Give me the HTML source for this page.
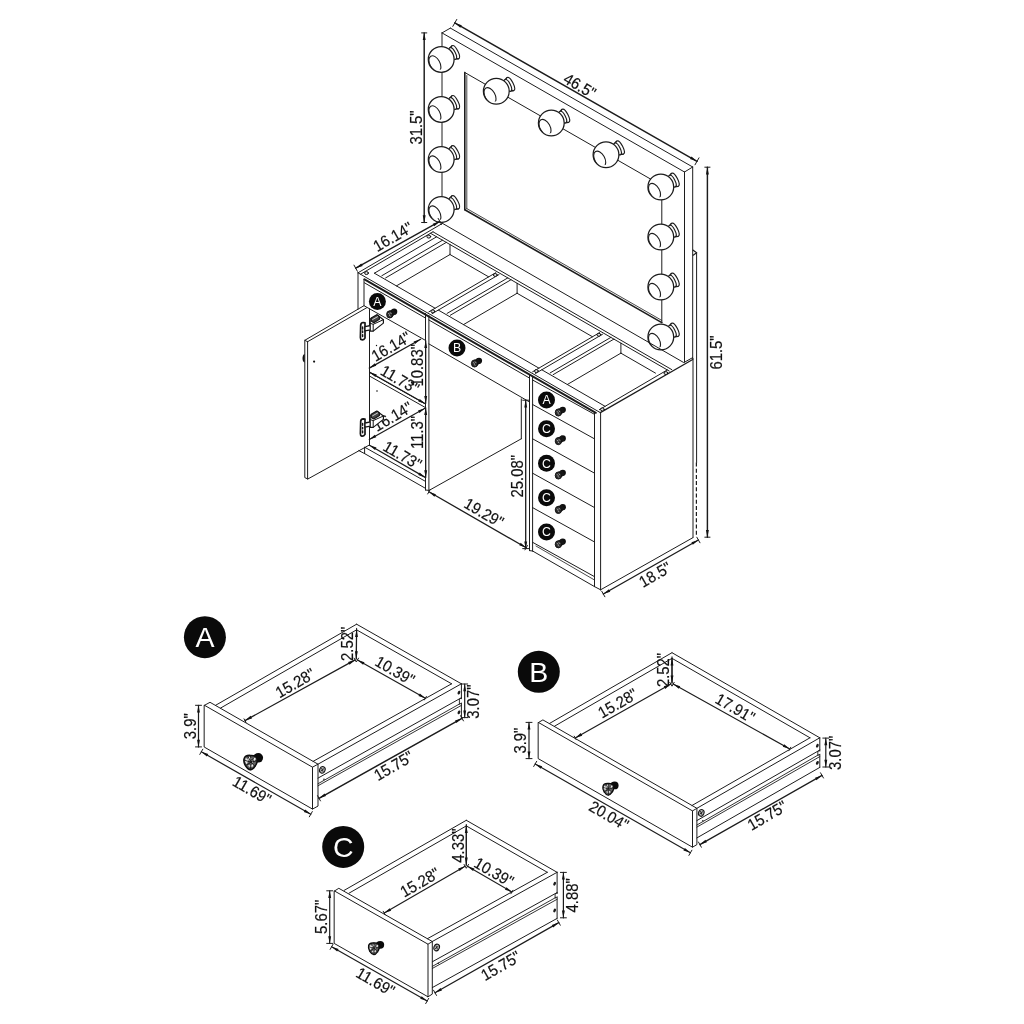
<!DOCTYPE html>
<html><head><meta charset="utf-8"><title>Vanity dimensions</title>
<style>
html,body{margin:0;padding:0;background:#fff;}
body{width:1024px;height:1024px;overflow:hidden;}
svg{display:block;will-change:transform;font-family:"Liberation Sans",sans-serif;}
</style></head><body>
<svg width="1024" height="1024" viewBox="0 0 1024 1024" stroke-linecap="round">
<rect x="0" y="0" width="1024" height="1024" fill="#fff"/>
<line x1="442.00" y1="32.90" x2="684.50" y2="172.00" stroke="#1c1c1c" stroke-width="1.0" />
<line x1="450.40" y1="28.10" x2="692.70" y2="167.00" stroke="#1c1c1c" stroke-width="1.0" />
<line x1="442.00" y1="32.90" x2="450.40" y2="28.10" stroke="#1c1c1c" stroke-width="1.0" />
<line x1="684.50" y1="172.00" x2="692.70" y2="167.00" stroke="#1c1c1c" stroke-width="1.0" />
<line x1="442.00" y1="32.90" x2="442.00" y2="223.30" stroke="#1c1c1c" stroke-width="1.0" />
<line x1="684.50" y1="172.00" x2="684.50" y2="362.20" stroke="#1c1c1c" stroke-width="1.0" />
<line x1="692.70" y1="167.00" x2="692.70" y2="358.50" stroke="#1c1c1c" stroke-width="1.0" />
<line x1="464.80" y1="72.50" x2="661.80" y2="185.50" stroke="#1c1c1c" stroke-width="1.0" />
<line x1="661.80" y1="185.50" x2="661.80" y2="322.60" stroke="#1c1c1c" stroke-width="1.0" />
<line x1="464.80" y1="72.50" x2="464.80" y2="209.80" stroke="#1c1c1c" stroke-width="1.6" />
<line x1="464.80" y1="209.80" x2="661.80" y2="322.60" stroke="#1c1c1c" stroke-width="1.6" />
<line x1="466.80" y1="75.50" x2="466.80" y2="208.80" stroke="#1c1c1c" stroke-width="0.8" />
<line x1="466.80" y1="208.60" x2="661.80" y2="320.40" stroke="#1c1c1c" stroke-width="0.8" />
<g transform="translate(441.20,59.40) rotate(-27)"><ellipse cx="15.9" cy="0" rx="2.7" ry="7.3" fill="#fff" stroke="#1c1c1c" stroke-width="1.15"/><path d="M12.6,-6.3 L15.6,-7.3 M12.6,6.3 L15.6,7.3" stroke="#1c1c1c" stroke-width="1.1" fill="none"/><ellipse cx="12.9" cy="0" rx="2.7" ry="6.4" fill="#fff" stroke="#1c1c1c" stroke-width="1.15"/></g>
<circle cx="441.20" cy="59.40" r="12.9" fill="#fff" stroke="#1c1c1c" stroke-width="1.25"/>
<clipPath id="bc1"><circle cx="441.20" cy="59.40" r="12.9"/></clipPath>
<ellipse cx="434.90" cy="63.60" rx="5.0" ry="8.5" transform="rotate(-29 434.90 63.60)" fill="none" stroke="#1c1c1c" stroke-width="1.1" clip-path="url(#bc1)"/>
<g transform="translate(441.20,109.40) rotate(-27)"><ellipse cx="15.9" cy="0" rx="2.7" ry="7.3" fill="#fff" stroke="#1c1c1c" stroke-width="1.15"/><path d="M12.6,-6.3 L15.6,-7.3 M12.6,6.3 L15.6,7.3" stroke="#1c1c1c" stroke-width="1.1" fill="none"/><ellipse cx="12.9" cy="0" rx="2.7" ry="6.4" fill="#fff" stroke="#1c1c1c" stroke-width="1.15"/></g>
<circle cx="441.20" cy="109.40" r="12.9" fill="#fff" stroke="#1c1c1c" stroke-width="1.25"/>
<clipPath id="bc2"><circle cx="441.20" cy="109.40" r="12.9"/></clipPath>
<ellipse cx="434.90" cy="113.60" rx="5.0" ry="8.5" transform="rotate(-29 434.90 113.60)" fill="none" stroke="#1c1c1c" stroke-width="1.1" clip-path="url(#bc2)"/>
<g transform="translate(441.20,159.50) rotate(-27)"><ellipse cx="15.9" cy="0" rx="2.7" ry="7.3" fill="#fff" stroke="#1c1c1c" stroke-width="1.15"/><path d="M12.6,-6.3 L15.6,-7.3 M12.6,6.3 L15.6,7.3" stroke="#1c1c1c" stroke-width="1.1" fill="none"/><ellipse cx="12.9" cy="0" rx="2.7" ry="6.4" fill="#fff" stroke="#1c1c1c" stroke-width="1.15"/></g>
<circle cx="441.20" cy="159.50" r="12.9" fill="#fff" stroke="#1c1c1c" stroke-width="1.25"/>
<clipPath id="bc3"><circle cx="441.20" cy="159.50" r="12.9"/></clipPath>
<ellipse cx="434.90" cy="163.70" rx="5.0" ry="8.5" transform="rotate(-29 434.90 163.70)" fill="none" stroke="#1c1c1c" stroke-width="1.1" clip-path="url(#bc3)"/>
<g transform="translate(441.20,209.50) rotate(-27)"><ellipse cx="15.9" cy="0" rx="2.7" ry="7.3" fill="#fff" stroke="#1c1c1c" stroke-width="1.15"/><path d="M12.6,-6.3 L15.6,-7.3 M12.6,6.3 L15.6,7.3" stroke="#1c1c1c" stroke-width="1.1" fill="none"/><ellipse cx="12.9" cy="0" rx="2.7" ry="6.4" fill="#fff" stroke="#1c1c1c" stroke-width="1.15"/></g>
<circle cx="441.20" cy="209.50" r="12.9" fill="#fff" stroke="#1c1c1c" stroke-width="1.25"/>
<clipPath id="bc4"><circle cx="441.20" cy="209.50" r="12.9"/></clipPath>
<ellipse cx="434.90" cy="213.70" rx="5.0" ry="8.5" transform="rotate(-29 434.90 213.70)" fill="none" stroke="#1c1c1c" stroke-width="1.1" clip-path="url(#bc4)"/>
<g transform="translate(496.30,91.30) rotate(-27)"><ellipse cx="15.9" cy="0" rx="2.7" ry="7.3" fill="#fff" stroke="#1c1c1c" stroke-width="1.15"/><path d="M12.6,-6.3 L15.6,-7.3 M12.6,6.3 L15.6,7.3" stroke="#1c1c1c" stroke-width="1.1" fill="none"/><ellipse cx="12.9" cy="0" rx="2.7" ry="6.4" fill="#fff" stroke="#1c1c1c" stroke-width="1.15"/></g>
<circle cx="496.30" cy="91.30" r="12.9" fill="#fff" stroke="#1c1c1c" stroke-width="1.25"/>
<clipPath id="bc5"><circle cx="496.30" cy="91.30" r="12.9"/></clipPath>
<ellipse cx="490.00" cy="95.50" rx="5.0" ry="8.5" transform="rotate(-29 490.00 95.50)" fill="none" stroke="#1c1c1c" stroke-width="1.1" clip-path="url(#bc5)"/>
<g transform="translate(551.30,123.00) rotate(-27)"><ellipse cx="15.9" cy="0" rx="2.7" ry="7.3" fill="#fff" stroke="#1c1c1c" stroke-width="1.15"/><path d="M12.6,-6.3 L15.6,-7.3 M12.6,6.3 L15.6,7.3" stroke="#1c1c1c" stroke-width="1.1" fill="none"/><ellipse cx="12.9" cy="0" rx="2.7" ry="6.4" fill="#fff" stroke="#1c1c1c" stroke-width="1.15"/></g>
<circle cx="551.30" cy="123.00" r="12.9" fill="#fff" stroke="#1c1c1c" stroke-width="1.25"/>
<clipPath id="bc6"><circle cx="551.30" cy="123.00" r="12.9"/></clipPath>
<ellipse cx="545.00" cy="127.20" rx="5.0" ry="8.5" transform="rotate(-29 545.00 127.20)" fill="none" stroke="#1c1c1c" stroke-width="1.1" clip-path="url(#bc6)"/>
<g transform="translate(606.00,154.80) rotate(-27)"><ellipse cx="15.9" cy="0" rx="2.7" ry="7.3" fill="#fff" stroke="#1c1c1c" stroke-width="1.15"/><path d="M12.6,-6.3 L15.6,-7.3 M12.6,6.3 L15.6,7.3" stroke="#1c1c1c" stroke-width="1.1" fill="none"/><ellipse cx="12.9" cy="0" rx="2.7" ry="6.4" fill="#fff" stroke="#1c1c1c" stroke-width="1.15"/></g>
<circle cx="606.00" cy="154.80" r="12.9" fill="#fff" stroke="#1c1c1c" stroke-width="1.25"/>
<clipPath id="bc7"><circle cx="606.00" cy="154.80" r="12.9"/></clipPath>
<ellipse cx="599.70" cy="159.00" rx="5.0" ry="8.5" transform="rotate(-29 599.70 159.00)" fill="none" stroke="#1c1c1c" stroke-width="1.1" clip-path="url(#bc7)"/>
<g transform="translate(660.80,187.00) rotate(-27)"><ellipse cx="15.9" cy="0" rx="2.7" ry="7.3" fill="#fff" stroke="#1c1c1c" stroke-width="1.15"/><path d="M12.6,-6.3 L15.6,-7.3 M12.6,6.3 L15.6,7.3" stroke="#1c1c1c" stroke-width="1.1" fill="none"/><ellipse cx="12.9" cy="0" rx="2.7" ry="6.4" fill="#fff" stroke="#1c1c1c" stroke-width="1.15"/></g>
<circle cx="660.80" cy="187.00" r="12.9" fill="#fff" stroke="#1c1c1c" stroke-width="1.25"/>
<clipPath id="bc8"><circle cx="660.80" cy="187.00" r="12.9"/></clipPath>
<ellipse cx="654.50" cy="191.20" rx="5.0" ry="8.5" transform="rotate(-29 654.50 191.20)" fill="none" stroke="#1c1c1c" stroke-width="1.1" clip-path="url(#bc8)"/>
<g transform="translate(660.80,237.00) rotate(-27)"><ellipse cx="15.9" cy="0" rx="2.7" ry="7.3" fill="#fff" stroke="#1c1c1c" stroke-width="1.15"/><path d="M12.6,-6.3 L15.6,-7.3 M12.6,6.3 L15.6,7.3" stroke="#1c1c1c" stroke-width="1.1" fill="none"/><ellipse cx="12.9" cy="0" rx="2.7" ry="6.4" fill="#fff" stroke="#1c1c1c" stroke-width="1.15"/></g>
<circle cx="660.80" cy="237.00" r="12.9" fill="#fff" stroke="#1c1c1c" stroke-width="1.25"/>
<clipPath id="bc9"><circle cx="660.80" cy="237.00" r="12.9"/></clipPath>
<ellipse cx="654.50" cy="241.20" rx="5.0" ry="8.5" transform="rotate(-29 654.50 241.20)" fill="none" stroke="#1c1c1c" stroke-width="1.1" clip-path="url(#bc9)"/>
<g transform="translate(660.80,287.00) rotate(-27)"><ellipse cx="15.9" cy="0" rx="2.7" ry="7.3" fill="#fff" stroke="#1c1c1c" stroke-width="1.15"/><path d="M12.6,-6.3 L15.6,-7.3 M12.6,6.3 L15.6,7.3" stroke="#1c1c1c" stroke-width="1.1" fill="none"/><ellipse cx="12.9" cy="0" rx="2.7" ry="6.4" fill="#fff" stroke="#1c1c1c" stroke-width="1.15"/></g>
<circle cx="660.80" cy="287.00" r="12.9" fill="#fff" stroke="#1c1c1c" stroke-width="1.25"/>
<clipPath id="bc10"><circle cx="660.80" cy="287.00" r="12.9"/></clipPath>
<ellipse cx="654.50" cy="291.20" rx="5.0" ry="8.5" transform="rotate(-29 654.50 291.20)" fill="none" stroke="#1c1c1c" stroke-width="1.1" clip-path="url(#bc10)"/>
<g transform="translate(660.80,337.00) rotate(-27)"><ellipse cx="15.9" cy="0" rx="2.7" ry="7.3" fill="#fff" stroke="#1c1c1c" stroke-width="1.15"/><path d="M12.6,-6.3 L15.6,-7.3 M12.6,6.3 L15.6,7.3" stroke="#1c1c1c" stroke-width="1.1" fill="none"/><ellipse cx="12.9" cy="0" rx="2.7" ry="6.4" fill="#fff" stroke="#1c1c1c" stroke-width="1.15"/></g>
<circle cx="660.80" cy="337.00" r="12.9" fill="#fff" stroke="#1c1c1c" stroke-width="1.25"/>
<clipPath id="bc11"><circle cx="660.80" cy="337.00" r="12.9"/></clipPath>
<ellipse cx="654.50" cy="341.20" rx="5.0" ry="8.5" transform="rotate(-29 654.50 341.20)" fill="none" stroke="#1c1c1c" stroke-width="1.1" clip-path="url(#bc11)"/>
<line x1="454.80" y1="22.90" x2="697.00" y2="161.30" stroke="#1c1c1c" stroke-width="1.5" />
<path d="M454.80,22.90 L461.77,25.21 L460.33,27.73 Z" fill="#111"/>
<path d="M697.00,161.30 L690.03,158.99 L691.47,156.47 Z" fill="#111"/>
<line x1="456.78" y1="19.43" x2="452.82" y2="26.37" stroke="#1c1c1c" stroke-width="1.0" />
<line x1="698.98" y1="157.83" x2="695.02" y2="164.77" stroke="#1c1c1c" stroke-width="1.0" />
<text x="0" y="0" transform="translate(580.00,85.50) rotate(30) scale(0.93,1)" text-anchor="middle" dy="0.36em" font-size="16" fill="#111" stroke="#111" stroke-width="0.2">46.5"</text>
<line x1="424.20" y1="32.90" x2="424.20" y2="222.50" stroke="#1c1c1c" stroke-width="1.45" />
<path d="M424.20,32.90 L425.65,40.10 L422.75,40.10 Z" fill="#111"/>
<path d="M424.20,222.50 L422.75,215.30 L425.65,215.30 Z" fill="#111"/>
<line x1="426.80" y1="32.90" x2="421.60" y2="32.90" stroke="#1c1c1c" stroke-width="1.0" />
<line x1="426.80" y1="222.50" x2="421.60" y2="222.50" stroke="#1c1c1c" stroke-width="1.0" />
<text x="0" y="0" transform="translate(416.30,127.50) rotate(-90) scale(0.93,1)" text-anchor="middle" dy="0.36em" font-size="16" fill="#111" stroke="#111" stroke-width="0.2">31.5"</text>
<line x1="707.40" y1="167.20" x2="707.40" y2="537.20" stroke="#1c1c1c" stroke-width="1.45" />
<path d="M707.40,167.20 L708.85,174.40 L705.95,174.40 Z" fill="#111"/>
<path d="M707.40,537.20 L705.95,530.00 L708.85,530.00 Z" fill="#111"/>
<line x1="710.00" y1="167.20" x2="704.80" y2="167.20" stroke="#1c1c1c" stroke-width="1.0" />
<line x1="710.00" y1="537.20" x2="704.80" y2="537.20" stroke="#1c1c1c" stroke-width="1.0" />
<text x="0" y="0" transform="translate(715.80,352.50) rotate(-90) scale(0.93,1)" text-anchor="middle" dy="0.36em" font-size="16" fill="#111" stroke="#111" stroke-width="0.2">61.5"</text>
<path d="M693.20,250.20 L696.60,252.80 L693.20,255.20" fill="none" stroke="#1c1c1c" stroke-width="1.2" stroke-linejoin="round"/>
<line x1="696.60" y1="252.80" x2="696.60" y2="462.50" stroke="#1c1c1c" stroke-width="1.0" />
<line x1="696.40" y1="462.50" x2="696.40" y2="536.00" stroke="#1c1c1c" stroke-width="1.2" stroke-dasharray="4,2.2" stroke-linecap="butt"/>
<line x1="358.00" y1="272.80" x2="600.30" y2="412.61" stroke="#1c1c1c" stroke-width="1.0" />
<line x1="358.00" y1="272.80" x2="442.50" y2="223.37" stroke="#1c1c1c" stroke-width="1.0" />
<line x1="442.50" y1="223.37" x2="683.50" y2="362.42" stroke="#1c1c1c" stroke-width="1.0" />
<line x1="600.30" y1="412.61" x2="692.70" y2="359.50" stroke="#1c1c1c" stroke-width="1.3" />
<line x1="684.50" y1="362.20" x2="692.70" y2="357.60" stroke="#1c1c1c" stroke-width="1.0" />
<line x1="355.70" y1="268.20" x2="439.80" y2="221.40" stroke="#1c1c1c" stroke-width="1.4" />
<path d="M355.70,268.20 L361.29,263.43 L362.70,265.97 Z" fill="#111"/>
<path d="M439.80,221.40 L434.21,226.17 L432.80,223.63 Z" fill="#111"/>
<line x1="354.00" y1="265.14" x2="357.40" y2="271.26" stroke="#1c1c1c" stroke-width="1.0" />
<line x1="438.10" y1="218.34" x2="441.50" y2="224.46" stroke="#1c1c1c" stroke-width="1.0" />
<text x="0" y="0" transform="translate(392.70,236.60) rotate(-30) scale(0.93,1)" text-anchor="middle" dy="0.36em" font-size="16" fill="#111" stroke="#111" stroke-width="0.2">16.14"</text>
<line x1="360.50" y1="274.24" x2="433.00" y2="231.83" stroke="#1c1c1c" stroke-width="1.0" />
<line x1="433.00" y1="231.83" x2="671.80" y2="369.62" stroke="#1c1c1c" stroke-width="1.0" />
<line x1="430.50" y1="233.29" x2="669.30" y2="371.08" stroke="#1c1c1c" stroke-width="1.0" />
<line x1="599.30" y1="409.71" x2="667.30" y2="369.93" stroke="#1c1c1c" stroke-width="1.0" />
<line x1="374.40" y1="273.20" x2="435.10" y2="308.22" stroke="#1c1c1c" stroke-width="1.0" />
<line x1="438.30" y1="310.07" x2="538.90" y2="368.12" stroke="#1c1c1c" stroke-width="1.0" />
<line x1="541.80" y1="369.79" x2="605.10" y2="406.31" stroke="#1c1c1c" stroke-width="1.0" />
<line x1="428.80" y1="311.91" x2="495.80" y2="272.71" stroke="#1c1c1c" stroke-width="1.0" />
<line x1="432.00" y1="313.75" x2="499.00" y2="274.56" stroke="#1c1c1c" stroke-width="1.0" />
<line x1="532.60" y1="371.80" x2="599.60" y2="332.61" stroke="#1c1c1c" stroke-width="1.0" />
<line x1="535.50" y1="373.47" x2="602.50" y2="334.28" stroke="#1c1c1c" stroke-width="1.0" />
<line x1="374.40" y1="273.20" x2="436.60" y2="236.81" stroke="#1c1c1c" stroke-width="1.0" />
<line x1="381.80" y1="275.73" x2="442.50" y2="240.22" stroke="#1c1c1c" stroke-width="1.0" />
<line x1="385.60" y1="277.92" x2="446.30" y2="242.41" stroke="#1c1c1c" stroke-width="1.0" />
<line x1="450.00" y1="244.54" x2="450.00" y2="254.54" stroke="#1c1c1c" stroke-width="1.0" />
<line x1="396.41" y1="285.90" x2="450.00" y2="254.54" stroke="#1c1c1c" stroke-width="1.0" />
<line x1="450.00" y1="254.54" x2="488.69" y2="276.87" stroke="#1c1c1c" stroke-width="1.0" />
<line x1="447.10" y1="313.40" x2="507.80" y2="277.89" stroke="#1c1c1c" stroke-width="1.0" />
<line x1="450.30" y1="315.25" x2="511.00" y2="279.74" stroke="#1c1c1c" stroke-width="1.0" />
<line x1="517.10" y1="283.26" x2="517.10" y2="293.26" stroke="#1c1c1c" stroke-width="1.0" />
<line x1="463.51" y1="324.61" x2="517.10" y2="293.26" stroke="#1c1c1c" stroke-width="1.0" />
<line x1="517.10" y1="293.26" x2="592.49" y2="336.76" stroke="#1c1c1c" stroke-width="1.0" />
<line x1="550.20" y1="372.89" x2="610.90" y2="337.38" stroke="#1c1c1c" stroke-width="1.0" />
<line x1="553.20" y1="374.62" x2="613.90" y2="339.11" stroke="#1c1c1c" stroke-width="1.0" />
<line x1="620.90" y1="343.15" x2="620.90" y2="353.15" stroke="#1c1c1c" stroke-width="1.0" />
<line x1="567.31" y1="384.51" x2="620.90" y2="353.15" stroke="#1c1c1c" stroke-width="1.0" />
<line x1="620.90" y1="353.15" x2="655.50" y2="373.12" stroke="#1c1c1c" stroke-width="1.0" />
<ellipse cx="366.50" cy="273.06" rx="1.9" ry="1.5" fill="#ddd" stroke="#111" stroke-width="1.0"/>
<ellipse cx="428.80" cy="236.61" rx="1.9" ry="1.5" fill="#ddd" stroke="#111" stroke-width="1.0"/>
<ellipse cx="432.90" cy="311.37" rx="1.9" ry="1.5" fill="#ddd" stroke="#111" stroke-width="1.0"/>
<ellipse cx="495.30" cy="274.98" rx="1.9" ry="1.5" fill="#ddd" stroke="#111" stroke-width="1.0"/>
<ellipse cx="536.40" cy="371.09" rx="1.9" ry="1.5" fill="#ddd" stroke="#111" stroke-width="1.0"/>
<ellipse cx="598.90" cy="334.76" rx="1.9" ry="1.5" fill="#ddd" stroke="#111" stroke-width="1.0"/>
<ellipse cx="602.40" cy="409.40" rx="1.9" ry="1.5" fill="#ddd" stroke="#111" stroke-width="1.0"/>
<ellipse cx="665.90" cy="373.07" rx="1.9" ry="1.5" fill="#ddd" stroke="#111" stroke-width="1.0"/>
<line x1="364.50" y1="279.35" x2="595.80" y2="412.81" stroke="#1c1c1c" stroke-width="2.0" />
<line x1="358.00" y1="272.80" x2="358.00" y2="309.20" stroke="#1c1c1c" stroke-width="1.0" />
<line x1="364.00" y1="279.30" x2="364.00" y2="305.70" stroke="#1c1c1c" stroke-width="1.0" />
<line x1="364.50" y1="282.85" x2="425.40" y2="317.99" stroke="#1c1c1c" stroke-width="1.0" />
<line x1="364.40" y1="305.90" x2="425.50" y2="340.40" stroke="#1c1c1c" stroke-width="1.0" />
<line x1="425.50" y1="313.50" x2="425.50" y2="490.00" stroke="#1c1c1c" stroke-width="1.0" />
<line x1="428.90" y1="315.50" x2="428.90" y2="490.40" stroke="#1c1c1c" stroke-width="1.0" />
<line x1="425.50" y1="490.00" x2="428.90" y2="490.40" stroke="#1c1c1c" stroke-width="1.0" />
<line x1="428.90" y1="320.01" x2="529.50" y2="378.06" stroke="#1c1c1c" stroke-width="1.0" />
<line x1="428.90" y1="343.91" x2="529.50" y2="401.96" stroke="#1c1c1c" stroke-width="1.0" />
<line x1="521.30" y1="398.80" x2="521.30" y2="438.80" stroke="#1c1c1c" stroke-width="1.0" />
<line x1="521.30" y1="438.80" x2="429.10" y2="490.40" stroke="#1c1c1c" stroke-width="1.0" />
<line x1="529.50" y1="374.50" x2="529.50" y2="550.60" stroke="#1c1c1c" stroke-width="1.0" />
<line x1="532.60" y1="376.50" x2="532.60" y2="551.00" stroke="#1c1c1c" stroke-width="1.0" />
<line x1="529.50" y1="550.60" x2="532.60" y2="551.00" stroke="#1c1c1c" stroke-width="1.0" />
<line x1="532.60" y1="380.00" x2="594.50" y2="414.35" stroke="#1c1c1c" stroke-width="1.0" />
<line x1="532.60" y1="404.50" x2="594.50" y2="438.85" stroke="#1c1c1c" stroke-width="1.0" />
<line x1="532.60" y1="438.80" x2="594.50" y2="473.15" stroke="#1c1c1c" stroke-width="1.0" />
<line x1="532.60" y1="473.20" x2="594.50" y2="507.55" stroke="#1c1c1c" stroke-width="1.0" />
<line x1="532.60" y1="507.60" x2="594.50" y2="541.95" stroke="#1c1c1c" stroke-width="1.0" />
<line x1="532.60" y1="542.30" x2="594.50" y2="576.65" stroke="#1c1c1c" stroke-width="1.0" />
<line x1="532.60" y1="551.00" x2="594.50" y2="586.60" stroke="#1c1c1c" stroke-width="1.0" />
<line x1="536.00" y1="546.00" x2="594.50" y2="580.00" stroke="#1c1c1c" stroke-width="0.8" />
<line x1="594.50" y1="412.60" x2="594.50" y2="586.60" stroke="#1c1c1c" stroke-width="1.0" />
<line x1="600.60" y1="412.80" x2="600.60" y2="589.80" stroke="#1c1c1c" stroke-width="1.0" />
<line x1="594.50" y1="586.60" x2="600.60" y2="589.80" stroke="#1c1c1c" stroke-width="1.0" />
<line x1="600.60" y1="589.80" x2="693.00" y2="537.60" stroke="#1c1c1c" stroke-width="1.0" />
<line x1="693.00" y1="358.50" x2="693.00" y2="537.40" stroke="#1c1c1c" stroke-width="1.0" />
<line x1="369.50" y1="308.80" x2="369.50" y2="445.20" stroke="#1c1c1c" stroke-width="1.0" />
<line x1="369.40" y1="372.40" x2="425.50" y2="404.00" stroke="#1c1c1c" stroke-width="1.0" />
<line x1="369.40" y1="376.00" x2="425.50" y2="407.60" stroke="#1c1c1c" stroke-width="1.0" />
<line x1="365.00" y1="447.40" x2="425.50" y2="481.40" stroke="#1c1c1c" stroke-width="1.0" />
<line x1="364.60" y1="447.20" x2="364.60" y2="453.60" stroke="#1c1c1c" stroke-width="1.0" />
<line x1="358.80" y1="450.60" x2="364.60" y2="453.60" stroke="#1c1c1c" stroke-width="1.0" />
<line x1="364.60" y1="453.60" x2="425.60" y2="488.40" stroke="#1c1c1c" stroke-width="1.0" />
<line x1="369.30" y1="368.10" x2="420.60" y2="339.20" stroke="#1c1c1c" stroke-width="1.25" />
<path d="M369.30,368.10 L374.86,363.30 L376.28,365.83 Z" fill="#111"/>
<path d="M420.60,339.20 L415.04,344.00 L413.62,341.47 Z" fill="#111"/>
<text x="0" y="0" transform="translate(390.90,346.30) rotate(-30) scale(0.93,1)" text-anchor="middle" dy="0.36em" font-size="16" fill="#111" stroke="#111" stroke-width="0.2">16.14"</text>
<line x1="369.80" y1="372.30" x2="425.30" y2="403.80" stroke="#1c1c1c" stroke-width="1.25" />
<path d="M369.80,372.30 L376.78,374.59 L375.35,377.12 Z" fill="#111"/>
<path d="M425.30,403.80 L418.32,401.51 L419.75,398.98 Z" fill="#111"/>
<text x="0" y="0" transform="translate(400.00,379.30) rotate(30) scale(0.93,1)" text-anchor="middle" dy="0.36em" font-size="16" fill="#111" stroke="#111" stroke-width="0.2">11.73"</text>
<line x1="425.70" y1="340.80" x2="425.70" y2="403.20" stroke="#1c1c1c" stroke-width="1.25" />
<path d="M425.70,340.80 L427.15,348.00 L424.25,348.00 Z" fill="#111"/>
<path d="M425.70,403.20 L424.25,396.00 L427.15,396.00 Z" fill="#111"/>
<text x="0" y="0" transform="translate(417.00,365.30) rotate(-90) scale(0.93,1)" text-anchor="middle" dy="0.36em" font-size="16" fill="#111" stroke="#111" stroke-width="0.2">10.83"</text>
<line x1="369.30" y1="439.50" x2="425.00" y2="408.20" stroke="#1c1c1c" stroke-width="1.25" />
<path d="M369.30,439.50 L374.87,434.71 L376.29,437.24 Z" fill="#111"/>
<path d="M425.00,408.20 L419.43,412.99 L418.01,410.46 Z" fill="#111"/>
<text x="0" y="0" transform="translate(392.50,416.30) rotate(-30) scale(0.93,1)" text-anchor="middle" dy="0.36em" font-size="16" fill="#111" stroke="#111" stroke-width="0.2">16.14"</text>
<line x1="369.50" y1="445.20" x2="425.20" y2="477.40" stroke="#1c1c1c" stroke-width="1.25" />
<path d="M369.50,445.20 L376.46,447.55 L375.01,450.06 Z" fill="#111"/>
<path d="M425.20,477.40 L418.24,475.05 L419.69,472.54 Z" fill="#111"/>
<text x="0" y="0" transform="translate(402.50,455.00) rotate(30) scale(0.93,1)" text-anchor="middle" dy="0.36em" font-size="16" fill="#111" stroke="#111" stroke-width="0.2">11.73"</text>
<line x1="425.70" y1="407.80" x2="425.70" y2="477.50" stroke="#1c1c1c" stroke-width="1.25" />
<path d="M425.70,407.80 L427.15,415.00 L424.25,415.00 Z" fill="#111"/>
<path d="M425.70,477.50 L424.25,470.30 L427.15,470.30 Z" fill="#111"/>
<text x="0" y="0" transform="translate(417.00,432.50) rotate(-90) scale(0.93,1)" text-anchor="middle" dy="0.36em" font-size="16" fill="#111" stroke="#111" stroke-width="0.2">11.3"</text>
<line x1="525.70" y1="400.20" x2="525.70" y2="548.60" stroke="#1c1c1c" stroke-width="1.3" />
<path d="M525.70,400.20 L527.15,407.40 L524.25,407.40 Z" fill="#111"/>
<path d="M525.70,548.60 L524.25,541.40 L527.15,541.40 Z" fill="#111"/>
<line x1="528.70" y1="400.20" x2="522.70" y2="400.20" stroke="#1c1c1c" stroke-width="1.0" />
<line x1="528.70" y1="548.60" x2="522.70" y2="548.60" stroke="#1c1c1c" stroke-width="1.0" />
<text x="0" y="0" transform="translate(517.00,476.20) rotate(-90) scale(0.93,1)" text-anchor="middle" dy="0.36em" font-size="16" fill="#111" stroke="#111" stroke-width="0.2">25.08"</text>
<line x1="428.90" y1="491.80" x2="526.20" y2="547.70" stroke="#1c1c1c" stroke-width="1.3" />
<path d="M428.90,491.80 L435.87,494.13 L434.42,496.64 Z" fill="#111"/>
<path d="M526.20,547.70 L519.23,545.37 L520.68,542.86 Z" fill="#111"/>
<line x1="430.15" y1="489.63" x2="427.65" y2="493.97" stroke="#1c1c1c" stroke-width="1.0" />
<line x1="527.45" y1="545.53" x2="524.95" y2="549.87" stroke="#1c1c1c" stroke-width="1.0" />
<text x="0" y="0" transform="translate(484.00,512.50) rotate(30) scale(0.93,1)" text-anchor="middle" dy="0.36em" font-size="16" fill="#111" stroke="#111" stroke-width="0.2">19.29"</text>
<line x1="603.30" y1="594.00" x2="698.40" y2="540.00" stroke="#1c1c1c" stroke-width="1.4" />
<path d="M603.30,594.00 L608.85,589.18 L610.28,591.71 Z" fill="#111"/>
<path d="M698.40,540.00 L692.85,544.82 L691.42,542.29 Z" fill="#111"/>
<line x1="601.72" y1="591.22" x2="604.88" y2="596.78" stroke="#1c1c1c" stroke-width="1.0" />
<line x1="696.82" y1="537.22" x2="699.98" y2="542.78" stroke="#1c1c1c" stroke-width="1.0" />
<text x="0" y="0" transform="translate(655.00,574.40) rotate(-30) scale(0.93,1)" text-anchor="middle" dy="0.36em" font-size="16" fill="#111" stroke="#111" stroke-width="0.2">18.5"</text>
<path d="M363.80,305.80 L304.80,340.30 L304.80,477.60 L307.80,479.00 L369.00,445.20" fill="none" stroke="#1c1c1c" stroke-width="1.0" stroke-linejoin="round"/>
<line x1="366.60" y1="307.80" x2="307.60" y2="341.70" stroke="#1c1c1c" stroke-width="1.0" />
<line x1="307.60" y1="341.70" x2="307.60" y2="479.00" stroke="#1c1c1c" stroke-width="1.0" />
<line x1="304.80" y1="340.30" x2="307.60" y2="341.70" stroke="#1c1c1c" stroke-width="1.0" />
<path d="M304.6,354.0 C301.8,355.0 301.8,361.6 304.6,362.6 Z" fill="#111"/>
<circle cx="314.1" cy="361.6" r="1.1" fill="#111"/>
<circle cx="377" cy="391" r="0.8" fill="#111"/>
<circle cx="376.5" cy="345.5" r="0.7" fill="#111"/>
<g transform="translate(360.0,313.5)" fill="#fff" stroke="#141414" stroke-linejoin="round"><path d="M0.7,11.6 Q0.8,9.3 3.2,9.0 L5.0,9.3 L5.0,24.6 Q3.6,26.8 1.7,26.3 Q0.3,25.9 0.4,24 Z" stroke-width="1.7"/><path d="M2.6,13.6 L2.6,15.4 M2.6,17.6 L2.6,19.0 M2.6,21.2 L2.6,23.0" stroke-width="1.5"/><path d="M5.0,13.2 L10.6,12.0 L10.6,16.4 L5.0,17.4 Z" stroke-width="1.3"/><path d="M10.2,5.6 L17.4,1.6 L23.4,6.2 L23.4,9.6 L13.2,17.6 L10.2,17.6 Z" stroke-width="1.2"/><path d="M13.2,17.6 L13.2,10.8 L23.4,6.2 M13.2,10.8 L10.2,9.8" stroke-width="1.0" fill="none"/><path d="M11.2,4.4 L16.8,1.2 L19.4,3.2 L19.4,5.8 L13.8,9.2 L11.2,7.6 Z" stroke-width="1.2" fill="#444"/><path d="M12.6,6.0 L17.6,3.2" stroke="#ddd" stroke-width="0.9"/></g>
<g transform="translate(360.0,409.8)" fill="#fff" stroke="#141414" stroke-linejoin="round"><path d="M0.7,11.6 Q0.8,9.3 3.2,9.0 L5.0,9.3 L5.0,24.6 Q3.6,26.8 1.7,26.3 Q0.3,25.9 0.4,24 Z" stroke-width="1.7"/><path d="M2.6,13.6 L2.6,15.4 M2.6,17.6 L2.6,19.0 M2.6,21.2 L2.6,23.0" stroke-width="1.5"/><path d="M5.0,13.2 L10.6,12.0 L10.6,16.4 L5.0,17.4 Z" stroke-width="1.3"/><path d="M10.2,5.6 L17.4,1.6 L23.4,6.2 L23.4,9.6 L13.2,17.6 L10.2,17.6 Z" stroke-width="1.2"/><path d="M13.2,17.6 L13.2,10.8 L23.4,6.2 M13.2,10.8 L10.2,9.8" stroke-width="1.0" fill="none"/><path d="M11.2,4.4 L16.8,1.2 L19.4,3.2 L19.4,5.8 L13.8,9.2 L11.2,7.6 Z" stroke-width="1.2" fill="#444"/><path d="M12.6,6.0 L17.6,3.2" stroke="#ddd" stroke-width="0.9"/></g>
<circle cx="377.40" cy="301.40" r="8.5" fill="#0a0a0a"/>
<text x="377.40" y="301.40" text-anchor="middle" dy="0.355em" font-size="12.3" fill="#fff">A</text>
<circle cx="394.20" cy="311.70" r="3.1" fill="#0e0e0e"/>
<path d="M389.00,311.10 L393.20,308.90 L396.20,313.50 L391.80,316.90 Z" fill="#161616"/>
<ellipse cx="389.80" cy="314.40" rx="3.2" ry="3.6" fill="#2a2a2a" stroke="#0e0e0e" stroke-width="0.9"/>
<path d="M388.40,313.50 L389.60,314.20 M390.40,312.70 L391.20,313.70 M389.40,315.50 L390.40,316.10" stroke="#bbb" stroke-width="0.8"/>
<circle cx="457.00" cy="348.00" r="8.5" fill="#0a0a0a"/>
<text x="457.00" y="348.00" text-anchor="middle" dy="0.355em" font-size="12.3" fill="#fff">B</text>
<circle cx="479.00" cy="360.80" r="3.1" fill="#0e0e0e"/>
<path d="M473.80,360.20 L478.00,358.00 L481.00,362.60 L476.60,366.00 Z" fill="#161616"/>
<ellipse cx="474.60" cy="363.50" rx="3.2" ry="3.6" fill="#2a2a2a" stroke="#0e0e0e" stroke-width="0.9"/>
<path d="M473.20,362.60 L474.40,363.30 M475.20,361.80 L476.00,362.80 M474.20,364.60 L475.20,365.20" stroke="#bbb" stroke-width="0.8"/>
<circle cx="546.50" cy="400.00" r="8.5" fill="#0a0a0a"/>
<text x="546.50" y="400.00" text-anchor="middle" dy="0.355em" font-size="12.3" fill="#fff">A</text>
<circle cx="562.80" cy="409.80" r="3.1" fill="#0e0e0e"/>
<path d="M557.60,409.20 L561.80,407.00 L564.80,411.60 L560.40,415.00 Z" fill="#161616"/>
<ellipse cx="558.40" cy="412.50" rx="3.2" ry="3.6" fill="#2a2a2a" stroke="#0e0e0e" stroke-width="0.9"/>
<path d="M557.00,411.60 L558.20,412.30 M559.00,410.80 L559.80,411.80 M558.00,413.60 L559.00,414.20" stroke="#bbb" stroke-width="0.8"/>
<circle cx="546.50" cy="428.80" r="8.5" fill="#0a0a0a"/>
<text x="546.50" y="428.80" text-anchor="middle" dy="0.355em" font-size="12.3" fill="#fff">C</text>
<circle cx="562.80" cy="438.40" r="3.1" fill="#0e0e0e"/>
<path d="M557.60,437.80 L561.80,435.60 L564.80,440.20 L560.40,443.60 Z" fill="#161616"/>
<ellipse cx="558.40" cy="441.10" rx="3.2" ry="3.6" fill="#2a2a2a" stroke="#0e0e0e" stroke-width="0.9"/>
<path d="M557.00,440.20 L558.20,440.90 M559.00,439.40 L559.80,440.40 M558.00,442.20 L559.00,442.80" stroke="#bbb" stroke-width="0.8"/>
<circle cx="546.50" cy="463.30" r="8.5" fill="#0a0a0a"/>
<text x="546.50" y="463.30" text-anchor="middle" dy="0.355em" font-size="12.3" fill="#fff">C</text>
<circle cx="562.80" cy="472.80" r="3.1" fill="#0e0e0e"/>
<path d="M557.60,472.20 L561.80,470.00 L564.80,474.60 L560.40,478.00 Z" fill="#161616"/>
<ellipse cx="558.40" cy="475.50" rx="3.2" ry="3.6" fill="#2a2a2a" stroke="#0e0e0e" stroke-width="0.9"/>
<path d="M557.00,474.60 L558.20,475.30 M559.00,473.80 L559.80,474.80 M558.00,476.60 L559.00,477.20" stroke="#bbb" stroke-width="0.8"/>
<circle cx="546.50" cy="497.80" r="8.5" fill="#0a0a0a"/>
<text x="546.50" y="497.80" text-anchor="middle" dy="0.355em" font-size="12.3" fill="#fff">C</text>
<circle cx="562.80" cy="507.20" r="3.1" fill="#0e0e0e"/>
<path d="M557.60,506.60 L561.80,504.40 L564.80,509.00 L560.40,512.40 Z" fill="#161616"/>
<ellipse cx="558.40" cy="509.90" rx="3.2" ry="3.6" fill="#2a2a2a" stroke="#0e0e0e" stroke-width="0.9"/>
<path d="M557.00,509.00 L558.20,509.70 M559.00,508.20 L559.80,509.20 M558.00,511.00 L559.00,511.60" stroke="#bbb" stroke-width="0.8"/>
<circle cx="546.50" cy="532.00" r="8.5" fill="#0a0a0a"/>
<text x="546.50" y="532.00" text-anchor="middle" dy="0.355em" font-size="12.3" fill="#fff">C</text>
<circle cx="562.80" cy="541.60" r="3.1" fill="#0e0e0e"/>
<path d="M557.60,541.00 L561.80,538.80 L564.80,543.40 L560.40,546.80 Z" fill="#161616"/>
<ellipse cx="558.40" cy="544.30" rx="3.2" ry="3.6" fill="#2a2a2a" stroke="#0e0e0e" stroke-width="0.9"/>
<path d="M557.00,543.40 L558.20,544.10 M559.00,542.60 L559.80,543.60 M558.00,545.40 L559.00,546.00" stroke="#bbb" stroke-width="0.8"/>
<path d="M204.50,705.30 L312.50,767.18 L312.50,809.08 L204.50,747.20 Z" fill="none" stroke="#1c1c1c" stroke-width="1.0" stroke-linejoin="round"/>
<path d="M204.50,705.30 L210.00,702.30 L318.00,764.18 L312.50,767.18" fill="none" stroke="#1c1c1c" stroke-width="1.0" stroke-linejoin="round"/>
<path d="M318.00,764.18 L318.00,806.08 L312.50,809.08" fill="none" stroke="#1c1c1c" stroke-width="1.0" stroke-linejoin="round"/>
<line x1="215.60" y1="705.30" x2="356.60" y2="624.20" stroke="#1c1c1c" stroke-width="1.0" />
<line x1="220.50" y1="708.11" x2="356.60" y2="629.84" stroke="#1c1c1c" stroke-width="1.0" />
<line x1="356.60" y1="624.20" x2="461.40" y2="683.80" stroke="#1c1c1c" stroke-width="1.0" />
<line x1="356.60" y1="629.84" x2="451.60" y2="683.80" stroke="#1c1c1c" stroke-width="1.0" />
<line x1="461.40" y1="683.80" x2="318.00" y2="764.18" stroke="#1c1c1c" stroke-width="1.0" />
<line x1="451.60" y1="683.80" x2="313.10" y2="761.38" stroke="#1c1c1c" stroke-width="1.0" />
<line x1="461.40" y1="683.80" x2="461.40" y2="717.80" stroke="#1c1c1c" stroke-width="1.0" />
<line x1="319.00" y1="798.28" x2="462.00" y2="718.30" stroke="#1c1c1c" stroke-width="1.5" />
<path d="M319.00,798.28 L324.58,793.50 L325.99,796.03 Z" fill="#111"/>
<path d="M462.00,718.30 L456.42,723.08 L455.01,720.55 Z" fill="#111"/>
<line x1="317.54" y1="795.67" x2="320.46" y2="800.90" stroke="#1c1c1c" stroke-width="1.0" />
<line x1="460.54" y1="715.68" x2="463.46" y2="720.92" stroke="#1c1c1c" stroke-width="1.0" />
<line x1="461.40" y1="697.74" x2="318.00" y2="778.12" stroke="#1c1c1c" stroke-width="1.0" />
<line x1="459.90" y1="703.75" x2="318.00" y2="783.73" stroke="#1c1c1c" stroke-width="0.9" />
<line x1="461.40" y1="699.14" x2="461.40" y2="702.95" stroke="#fff" stroke-width="2.4" stroke-linecap="butt"/>
<path d="M461.40,697.94 L459.40,699.04 L459.40,704.25 L461.40,703.15" fill="none" stroke="#1c1c1c" stroke-width="0.9" stroke-linejoin="round"/>
<line x1="461.40" y1="705.39" x2="318.00" y2="785.77" stroke="#1c1c1c" stroke-width="0.9" />
<ellipse cx="458.96" cy="692.65" rx="1.25" ry="2.0" fill="#1a1a1a" transform="rotate(25 458.96 692.65)"/>
<ellipse cx="458.96" cy="712.37" rx="1.25" ry="2.0" fill="#1a1a1a" transform="rotate(25 458.96 712.37)"/>
<ellipse cx="322.36" cy="769.90" rx="2.7" ry="3.4" fill="#bbb" stroke="#111" stroke-width="1.1" transform="rotate(20 322.36 769.90)"/>
<path d="M320.86,771.10 L323.86,768.70 M321.66,768.30 L323.06,771.50" stroke="#1c1c1c" stroke-width="0.9"/>
<circle cx="323.96" cy="779.34" r="0.8" fill="#222"/>
<line x1="356.60" y1="628.34" x2="356.30" y2="659.20" stroke="#1c1c1c" stroke-width="1.0" />
<line x1="245.00" y1="720.60" x2="355.10" y2="659.90" stroke="#1c1c1c" stroke-width="1.2" />
<path d="M245.00,720.60 L250.61,715.85 L252.01,718.39 Z" fill="#111"/>
<path d="M355.10,659.90 L349.49,664.65 L348.09,662.11 Z" fill="#111"/>
<line x1="244.03" y1="718.85" x2="245.97" y2="722.35" stroke="#1c1c1c" stroke-width="1.0" />
<line x1="354.13" y1="658.15" x2="356.07" y2="661.65" stroke="#1c1c1c" stroke-width="1.0" />
<line x1="357.50" y1="659.90" x2="425.40" y2="698.20" stroke="#1c1c1c" stroke-width="1.2" />
<path d="M357.50,659.90 L364.48,662.17 L363.06,664.70 Z" fill="#111"/>
<path d="M425.40,698.20 L418.42,695.93 L419.84,693.40 Z" fill="#111"/>
<line x1="358.48" y1="658.16" x2="356.52" y2="661.64" stroke="#1c1c1c" stroke-width="1.0" />
<line x1="426.38" y1="696.46" x2="424.42" y2="699.94" stroke="#1c1c1c" stroke-width="1.0" />
<line x1="356.60" y1="629.84" x2="356.30" y2="658.40" stroke="#1c1c1c" stroke-width="1.25" />
<path d="M356.60,629.84 L357.97,637.05 L355.07,637.02 Z" fill="#111"/>
<path d="M356.30,658.40 L354.93,651.19 L357.83,651.22 Z" fill="#111"/>
<text x="0" y="0" transform="translate(295.00,682.80) rotate(-30) scale(0.93,1)" text-anchor="middle" dy="0.36em" font-size="16" fill="#111" stroke="#111" stroke-width="0.2">15.28"</text>
<text x="0" y="0" transform="translate(395.00,670.30) rotate(30) scale(0.93,1)" text-anchor="middle" dy="0.36em" font-size="16" fill="#111" stroke="#111" stroke-width="0.2">10.39"</text>
<text x="0" y="0" transform="translate(347.50,643.80) rotate(-90) scale(0.93,1)" text-anchor="middle" dy="0.36em" font-size="16" fill="#111" stroke="#111" stroke-width="0.2">2.52"</text>
<line x1="198.50" y1="705.30" x2="198.50" y2="746.90" stroke="#1c1c1c" stroke-width="1.2" />
<path d="M198.50,705.30 L199.95,712.50 L197.05,712.50 Z" fill="#111"/>
<path d="M198.50,746.90 L197.05,739.70 L199.95,739.70 Z" fill="#111"/>
<line x1="201.50" y1="705.30" x2="195.50" y2="705.30" stroke="#1c1c1c" stroke-width="1.0" />
<line x1="201.50" y1="746.90" x2="195.50" y2="746.90" stroke="#1c1c1c" stroke-width="1.0" />
<text x="0" y="0" transform="translate(190.30,726.30) rotate(-90) scale(0.93,1)" text-anchor="middle" dy="0.36em" font-size="16" fill="#111" stroke="#111" stroke-width="0.2">3.9"</text>
<line x1="201.30" y1="751.80" x2="310.80" y2="814.20" stroke="#1c1c1c" stroke-width="1.2" />
<path d="M201.30,751.80 L208.27,754.11 L206.84,756.62 Z" fill="#111"/>
<path d="M310.80,814.20 L303.83,811.89 L305.26,809.38 Z" fill="#111"/>
<line x1="202.79" y1="749.19" x2="199.81" y2="754.41" stroke="#1c1c1c" stroke-width="1.0" />
<line x1="312.29" y1="811.59" x2="309.31" y2="816.81" stroke="#1c1c1c" stroke-width="1.0" />
<text x="0" y="0" transform="translate(252.00,790.00) rotate(30) scale(0.93,1)" text-anchor="middle" dy="0.36em" font-size="16" fill="#111" stroke="#111" stroke-width="0.2">11.69"</text>
<text x="0" y="0" transform="translate(393.40,765.60) rotate(-30) scale(0.93,1)" text-anchor="middle" dy="0.36em" font-size="16" fill="#111" stroke="#111" stroke-width="0.2">15.75"</text>
<line x1="464.70" y1="684.00" x2="464.70" y2="717.60" stroke="#1c1c1c" stroke-width="1.2" />
<path d="M464.70,684.00 L466.15,691.20 L463.25,691.20 Z" fill="#111"/>
<path d="M464.70,717.60 L463.25,710.40 L466.15,710.40 Z" fill="#111"/>
<line x1="467.70" y1="684.00" x2="461.70" y2="684.00" stroke="#1c1c1c" stroke-width="1.0" />
<line x1="467.70" y1="717.60" x2="461.70" y2="717.60" stroke="#1c1c1c" stroke-width="1.0" />
<text x="0" y="0" transform="translate(473.20,701.60) rotate(-90) scale(0.93,1)" text-anchor="middle" dy="0.36em" font-size="16" fill="#111" stroke="#111" stroke-width="0.2">3.07"</text>
<g transform="translate(252.40,761.20) scale(1.0)"><circle cx="5.9" cy="-3.4" r="4.8" fill="#0a0a0a"/><path d="M-1.5,-4.5 L3.5,-7.5 L6,0 L2,4 Z" fill="#0a0a0a"/><path d="M-8.3,-2.6 C-7.6,-5.2 -4.6,-6.0 -1.9,-5.8 C0.8,-5.9 3.6,-5.2 4.4,-3.2 C5.2,-0.6 4.6,2.6 2.6,5.2 C1.2,7.2 -0.4,8.6 -1.9,8.6 C-3.6,8.4 -5.6,6.8 -7.0,4.4 C-8.4,2.0 -8.8,-0.6 -8.3,-2.6 Z" fill="#5e5e5e" stroke="#0c0c0c" stroke-width="1.5"/><path d="M-6.6,-3.4 L-4.0,-1.2 L-5.6,3.2 L-7.4,0.2 Z M-3.0,-4.4 L-0.6,-2.6 L-3.2,-0.4 L-4.6,-2.6 Z M-1.6,-0.6 L0.6,-1.8 L0.4,1.6 L-2.2,2.6 Z M1.0,-4.2 L3.4,-2.6 L2.4,0.2 L0.6,-2.4 Z M-1.6,3.6 L1.2,2.8 L0.6,5.2 L-2.0,5.8 Z M-4.4,4.4 L-2.6,3.6 L-2.6,6.2 Z" fill="#ededed"/><path d="M-1.9,-5.8 L-1.2,1.0 L-1.9,8.6 M-8.3,-1.0 L-1.2,1.0 L4.6,-0.6 M-7.0,4.4 L-1.2,1.0 L2.6,5.2 M-5.0,-5.4 L-1.2,1.0 L2.4,-5.2" stroke="#101010" stroke-width="0.9" fill="none"/></g>
<circle cx="204.90" cy="637.20" r="21" fill="#0a0a0a"/>
<text x="204.90" y="637.20" text-anchor="middle" dy="0.355em" font-size="28.5" fill="#fff">A</text>
<path d="M538.50,722.50 L692.50,810.90 L692.50,847.20 L538.50,758.80 Z" fill="none" stroke="#1c1c1c" stroke-width="1.0" stroke-linejoin="round"/>
<path d="M538.50,722.50 L542.90,719.90 L696.90,808.30 L692.50,810.90" fill="none" stroke="#1c1c1c" stroke-width="1.0" stroke-linejoin="round"/>
<path d="M696.90,808.30 L696.90,844.60 L692.50,847.20" fill="none" stroke="#1c1c1c" stroke-width="1.0" stroke-linejoin="round"/>
<line x1="549.60" y1="723.40" x2="672.00" y2="652.70" stroke="#1c1c1c" stroke-width="1.0" />
<line x1="554.50" y1="726.21" x2="672.00" y2="658.34" stroke="#1c1c1c" stroke-width="1.0" />
<line x1="672.00" y1="652.70" x2="819.80" y2="737.80" stroke="#1c1c1c" stroke-width="1.0" />
<line x1="672.00" y1="658.34" x2="810.00" y2="737.80" stroke="#1c1c1c" stroke-width="1.0" />
<line x1="819.80" y1="737.80" x2="696.90" y2="808.30" stroke="#1c1c1c" stroke-width="1.0" />
<line x1="810.00" y1="737.80" x2="692.00" y2="805.48" stroke="#1c1c1c" stroke-width="1.0" />
<line x1="819.80" y1="737.80" x2="819.80" y2="767.40" stroke="#1c1c1c" stroke-width="1.0" />
<line x1="819.80" y1="767.40" x2="696.90" y2="837.90" stroke="#1c1c1c" stroke-width="1.0" />
<line x1="819.80" y1="750.08" x2="696.90" y2="820.58" stroke="#1c1c1c" stroke-width="1.0" />
<line x1="818.30" y1="754.92" x2="696.90" y2="825.02" stroke="#1c1c1c" stroke-width="0.9" />
<line x1="819.80" y1="751.48" x2="819.80" y2="754.12" stroke="#fff" stroke-width="2.4" stroke-linecap="butt"/>
<path d="M819.80,750.28 L817.80,751.38 L817.80,755.42 L819.80,754.32" fill="none" stroke="#1c1c1c" stroke-width="0.9" stroke-linejoin="round"/>
<line x1="819.80" y1="756.60" x2="696.90" y2="827.09" stroke="#1c1c1c" stroke-width="0.9" />
<ellipse cx="817.37" cy="745.71" rx="1.25" ry="2.0" fill="#1a1a1a" transform="rotate(25 817.37 745.71)"/>
<ellipse cx="817.37" cy="762.87" rx="1.25" ry="2.0" fill="#1a1a1a" transform="rotate(25 817.37 762.87)"/>
<ellipse cx="701.24" cy="812.91" rx="2.7" ry="3.4" fill="#bbb" stroke="#111" stroke-width="1.1" transform="rotate(20 701.24 812.91)"/>
<path d="M699.74,814.11 L702.74,811.71 M700.54,811.31 L701.94,814.51" stroke="#1c1c1c" stroke-width="0.9"/>
<circle cx="702.84" cy="820.70" r="0.8" fill="#222"/>
<line x1="672.00" y1="656.84" x2="672.00" y2="683.40" stroke="#1c1c1c" stroke-width="1.0" />
<line x1="575.20" y1="737.90" x2="670.80" y2="684.10" stroke="#1c1c1c" stroke-width="1.2" />
<path d="M575.20,737.90 L580.76,733.11 L582.19,735.63 Z" fill="#111"/>
<path d="M670.80,684.10 L665.24,688.89 L663.81,686.37 Z" fill="#111"/>
<line x1="574.22" y1="736.16" x2="576.18" y2="739.64" stroke="#1c1c1c" stroke-width="1.0" />
<line x1="669.82" y1="682.36" x2="671.78" y2="685.84" stroke="#1c1c1c" stroke-width="1.0" />
<line x1="673.20" y1="684.10" x2="789.80" y2="749.00" stroke="#1c1c1c" stroke-width="1.2" />
<path d="M673.20,684.10 L680.20,686.33 L678.79,688.87 Z" fill="#111"/>
<path d="M789.80,749.00 L782.80,746.77 L784.21,744.23 Z" fill="#111"/>
<line x1="674.17" y1="682.35" x2="672.23" y2="685.85" stroke="#1c1c1c" stroke-width="1.0" />
<line x1="790.77" y1="747.25" x2="788.83" y2="750.75" stroke="#1c1c1c" stroke-width="1.0" />
<line x1="672.00" y1="658.34" x2="672.00" y2="682.60" stroke="#1c1c1c" stroke-width="1.25" />
<path d="M672.00,658.34 L673.45,665.54 L670.55,665.54 Z" fill="#111"/>
<path d="M672.00,682.60 L670.55,675.40 L673.45,675.40 Z" fill="#111"/>
<text x="0" y="0" transform="translate(617.60,703.10) rotate(-30) scale(0.93,1)" text-anchor="middle" dy="0.36em" font-size="16" fill="#111" stroke="#111" stroke-width="0.2">15.28"</text>
<text x="0" y="0" transform="translate(735.30,707.80) rotate(30) scale(0.93,1)" text-anchor="middle" dy="0.36em" font-size="16" fill="#111" stroke="#111" stroke-width="0.2">17.91"</text>
<text x="0" y="0" transform="translate(663.00,670.00) rotate(-90) scale(0.93,1)" text-anchor="middle" dy="0.36em" font-size="16" fill="#111" stroke="#111" stroke-width="0.2">2.52"</text>
<line x1="529.00" y1="722.40" x2="529.00" y2="758.60" stroke="#1c1c1c" stroke-width="1.2" />
<path d="M529.00,722.40 L530.45,729.60 L527.55,729.60 Z" fill="#111"/>
<path d="M529.00,758.60 L527.55,751.40 L530.45,751.40 Z" fill="#111"/>
<line x1="532.00" y1="722.40" x2="526.00" y2="722.40" stroke="#1c1c1c" stroke-width="1.0" />
<line x1="532.00" y1="758.60" x2="526.00" y2="758.60" stroke="#1c1c1c" stroke-width="1.0" />
<text x="0" y="0" transform="translate(520.60,740.60) rotate(-90) scale(0.93,1)" text-anchor="middle" dy="0.36em" font-size="16" fill="#111" stroke="#111" stroke-width="0.2">3.9"</text>
<line x1="535.20" y1="763.90" x2="690.40" y2="852.80" stroke="#1c1c1c" stroke-width="1.2" />
<path d="M535.20,763.90 L542.17,766.22 L540.73,768.74 Z" fill="#111"/>
<path d="M690.40,852.80 L683.43,850.48 L684.87,847.96 Z" fill="#111"/>
<line x1="536.69" y1="761.30" x2="533.71" y2="766.50" stroke="#1c1c1c" stroke-width="1.0" />
<line x1="691.89" y1="850.20" x2="688.91" y2="855.40" stroke="#1c1c1c" stroke-width="1.0" />
<text x="0" y="0" transform="translate(609.00,815.30) rotate(30) scale(0.93,1)" text-anchor="middle" dy="0.36em" font-size="16" fill="#111" stroke="#111" stroke-width="0.2">20.04"</text>
<line x1="699.90" y1="844.60" x2="822.00" y2="775.40" stroke="#1c1c1c" stroke-width="1.3" />
<path d="M699.90,844.60 L705.45,839.79 L706.88,842.31 Z" fill="#111"/>
<path d="M822.00,775.40 L816.45,780.21 L815.02,777.69 Z" fill="#111"/>
<line x1="698.42" y1="841.99" x2="701.38" y2="847.21" stroke="#1c1c1c" stroke-width="1.0" />
<line x1="820.52" y1="772.79" x2="823.48" y2="778.01" stroke="#1c1c1c" stroke-width="1.0" />
<text x="0" y="0" transform="translate(767.00,815.30) rotate(-30) scale(0.93,1)" text-anchor="middle" dy="0.36em" font-size="16" fill="#111" stroke="#111" stroke-width="0.2">15.75"</text>
<line x1="825.80" y1="738.10" x2="825.80" y2="767.00" stroke="#1c1c1c" stroke-width="1.2" />
<path d="M825.80,738.10 L827.25,745.30 L824.35,745.30 Z" fill="#111"/>
<path d="M825.80,767.00 L824.35,759.80 L827.25,759.80 Z" fill="#111"/>
<line x1="828.80" y1="738.10" x2="822.80" y2="738.10" stroke="#1c1c1c" stroke-width="1.0" />
<line x1="828.80" y1="767.00" x2="822.80" y2="767.00" stroke="#1c1c1c" stroke-width="1.0" />
<text x="0" y="0" transform="translate(834.80,752.80) rotate(-90) scale(0.93,1)" text-anchor="middle" dy="0.36em" font-size="16" fill="#111" stroke="#111" stroke-width="0.2">3.07"</text>
<g transform="translate(609.80,788.20) scale(0.82)"><circle cx="5.9" cy="-3.4" r="4.8" fill="#0a0a0a"/><path d="M-1.5,-4.5 L3.5,-7.5 L6,0 L2,4 Z" fill="#0a0a0a"/><path d="M-8.3,-2.6 C-7.6,-5.2 -4.6,-6.0 -1.9,-5.8 C0.8,-5.9 3.6,-5.2 4.4,-3.2 C5.2,-0.6 4.6,2.6 2.6,5.2 C1.2,7.2 -0.4,8.6 -1.9,8.6 C-3.6,8.4 -5.6,6.8 -7.0,4.4 C-8.4,2.0 -8.8,-0.6 -8.3,-2.6 Z" fill="#5e5e5e" stroke="#0c0c0c" stroke-width="1.5"/><path d="M-6.6,-3.4 L-4.0,-1.2 L-5.6,3.2 L-7.4,0.2 Z M-3.0,-4.4 L-0.6,-2.6 L-3.2,-0.4 L-4.6,-2.6 Z M-1.6,-0.6 L0.6,-1.8 L0.4,1.6 L-2.2,2.6 Z M1.0,-4.2 L3.4,-2.6 L2.4,0.2 L0.6,-2.4 Z M-1.6,3.6 L1.2,2.8 L0.6,5.2 L-2.0,5.8 Z M-4.4,4.4 L-2.6,3.6 L-2.6,6.2 Z" fill="#ededed"/><path d="M-1.9,-5.8 L-1.2,1.0 L-1.9,8.6 M-8.3,-1.0 L-1.2,1.0 L4.6,-0.6 M-7.0,4.4 L-1.2,1.0 L2.6,5.2 M-5.0,-5.4 L-1.2,1.0 L2.4,-5.2" stroke="#101010" stroke-width="0.9" fill="none"/></g>
<circle cx="538.80" cy="671.80" r="21" fill="#0a0a0a"/>
<text x="538.80" y="671.80" text-anchor="middle" dy="0.355em" font-size="28.5" fill="#fff">B</text>
<path d="M334.50,891.00 L428.00,944.20 L428.00,996.80 L334.50,943.60 Z" fill="none" stroke="#1c1c1c" stroke-width="1.0" stroke-linejoin="round"/>
<path d="M334.50,891.00 L338.80,888.30 L432.30,941.50 L428.00,944.20" fill="none" stroke="#1c1c1c" stroke-width="1.0" stroke-linejoin="round"/>
<path d="M432.30,941.50 L432.30,994.10 L428.00,996.80" fill="none" stroke="#1c1c1c" stroke-width="1.0" stroke-linejoin="round"/>
<line x1="344.10" y1="890.40" x2="466.30" y2="820.30" stroke="#1c1c1c" stroke-width="1.0" />
<line x1="349.00" y1="893.19" x2="466.30" y2="825.92" stroke="#1c1c1c" stroke-width="1.0" />
<line x1="466.30" y1="820.30" x2="557.10" y2="872.30" stroke="#1c1c1c" stroke-width="1.0" />
<line x1="466.30" y1="825.92" x2="547.30" y2="872.30" stroke="#1c1c1c" stroke-width="1.0" />
<line x1="557.10" y1="872.30" x2="432.30" y2="941.50" stroke="#1c1c1c" stroke-width="1.0" />
<line x1="547.30" y1="872.30" x2="427.40" y2="938.71" stroke="#1c1c1c" stroke-width="1.0" />
<line x1="557.10" y1="872.30" x2="557.10" y2="918.40" stroke="#1c1c1c" stroke-width="1.0" />
<line x1="557.10" y1="918.40" x2="432.30" y2="987.60" stroke="#1c1c1c" stroke-width="1.0" />
<line x1="557.10" y1="892.58" x2="432.30" y2="961.79" stroke="#1c1c1c" stroke-width="1.0" />
<line x1="555.60" y1="897.59" x2="432.30" y2="966.40" stroke="#1c1c1c" stroke-width="0.9" />
<line x1="557.10" y1="893.98" x2="557.10" y2="896.79" stroke="#fff" stroke-width="2.4" stroke-linecap="butt"/>
<path d="M557.10,892.78 L555.10,893.88 L555.10,898.09 L557.10,896.99" fill="none" stroke="#1c1c1c" stroke-width="0.9" stroke-linejoin="round"/>
<line x1="557.10" y1="899.27" x2="432.30" y2="968.47" stroke="#1c1c1c" stroke-width="0.9" />
<ellipse cx="554.65" cy="883.80" rx="1.25" ry="2.0" fill="#1a1a1a" transform="rotate(25 554.65 883.80)"/>
<ellipse cx="554.65" cy="910.54" rx="1.25" ry="2.0" fill="#1a1a1a" transform="rotate(25 554.65 910.54)"/>
<ellipse cx="436.67" cy="947.48" rx="2.7" ry="3.4" fill="#bbb" stroke="#111" stroke-width="1.1" transform="rotate(20 436.67 947.48)"/>
<path d="M435.17,948.68 L438.17,946.28 M435.97,945.88 L437.37,949.08" stroke="#1c1c1c" stroke-width="0.9"/>
<circle cx="438.27" cy="963.26" r="0.8" fill="#222"/>
<line x1="466.30" y1="824.42" x2="466.30" y2="865.50" stroke="#1c1c1c" stroke-width="1.0" />
<line x1="384.20" y1="913.00" x2="465.10" y2="866.20" stroke="#1c1c1c" stroke-width="1.2" />
<path d="M384.20,913.00 L389.71,908.14 L391.16,910.65 Z" fill="#111"/>
<path d="M465.10,866.20 L459.59,871.06 L458.14,868.55 Z" fill="#111"/>
<line x1="383.20" y1="911.27" x2="385.20" y2="914.73" stroke="#1c1c1c" stroke-width="1.0" />
<line x1="464.10" y1="864.47" x2="466.10" y2="867.93" stroke="#1c1c1c" stroke-width="1.0" />
<line x1="467.50" y1="866.20" x2="511.90" y2="892.00" stroke="#1c1c1c" stroke-width="1.2" />
<path d="M467.50,866.20 L474.45,868.56 L473.00,871.07 Z" fill="#111"/>
<path d="M511.90,892.00 L504.95,889.64 L506.40,887.13 Z" fill="#111"/>
<line x1="468.50" y1="864.47" x2="466.50" y2="867.93" stroke="#1c1c1c" stroke-width="1.0" />
<line x1="512.90" y1="890.27" x2="510.90" y2="893.73" stroke="#1c1c1c" stroke-width="1.0" />
<line x1="466.30" y1="825.92" x2="466.30" y2="864.70" stroke="#1c1c1c" stroke-width="1.25" />
<path d="M466.30,825.92 L467.75,833.12 L464.85,833.12 Z" fill="#111"/>
<path d="M466.30,864.70 L464.85,857.50 L467.75,857.50 Z" fill="#111"/>
<text x="0" y="0" transform="translate(419.70,882.20) rotate(-30) scale(0.93,1)" text-anchor="middle" dy="0.36em" font-size="16" fill="#111" stroke="#111" stroke-width="0.2">15.28"</text>
<text x="0" y="0" transform="translate(494.00,871.90) rotate(30) scale(0.93,1)" text-anchor="middle" dy="0.36em" font-size="16" fill="#111" stroke="#111" stroke-width="0.2">10.39"</text>
<text x="0" y="0" transform="translate(458.40,845.60) rotate(-90) scale(0.93,1)" text-anchor="middle" dy="0.36em" font-size="16" fill="#111" stroke="#111" stroke-width="0.2">4.33"</text>
<line x1="329.70" y1="890.80" x2="329.70" y2="943.40" stroke="#1c1c1c" stroke-width="1.2" />
<path d="M329.70,890.80 L331.15,898.00 L328.25,898.00 Z" fill="#111"/>
<path d="M329.70,943.40 L328.25,936.20 L331.15,936.20 Z" fill="#111"/>
<line x1="332.70" y1="890.80" x2="326.70" y2="890.80" stroke="#1c1c1c" stroke-width="1.0" />
<line x1="332.70" y1="943.40" x2="326.70" y2="943.40" stroke="#1c1c1c" stroke-width="1.0" />
<text x="0" y="0" transform="translate(321.30,916.90) rotate(-90) scale(0.93,1)" text-anchor="middle" dy="0.36em" font-size="16" fill="#111" stroke="#111" stroke-width="0.2">5.67"</text>
<line x1="331.60" y1="946.80" x2="427.20" y2="1001.00" stroke="#1c1c1c" stroke-width="1.2" />
<path d="M331.60,946.80 L338.58,949.09 L337.15,951.61 Z" fill="#111"/>
<path d="M427.20,1001.00 L420.22,998.71 L421.65,996.19 Z" fill="#111"/>
<line x1="333.08" y1="944.19" x2="330.12" y2="949.41" stroke="#1c1c1c" stroke-width="1.0" />
<line x1="428.68" y1="998.39" x2="425.72" y2="1003.61" stroke="#1c1c1c" stroke-width="1.0" />
<text x="0" y="0" transform="translate(375.60,981.60) rotate(30) scale(0.93,1)" text-anchor="middle" dy="0.36em" font-size="16" fill="#111" stroke="#111" stroke-width="0.2">11.69"</text>
<line x1="435.00" y1="992.80" x2="558.80" y2="922.60" stroke="#1c1c1c" stroke-width="1.3" />
<path d="M435.00,992.80 L440.55,987.99 L441.98,990.51 Z" fill="#111"/>
<path d="M558.80,922.60 L553.25,927.41 L551.82,924.89 Z" fill="#111"/>
<line x1="433.52" y1="990.19" x2="436.48" y2="995.41" stroke="#1c1c1c" stroke-width="1.0" />
<line x1="557.32" y1="919.99" x2="560.28" y2="925.21" stroke="#1c1c1c" stroke-width="1.0" />
<text x="0" y="0" transform="translate(500.60,965.60) rotate(-30) scale(0.93,1)" text-anchor="middle" dy="0.36em" font-size="16" fill="#111" stroke="#111" stroke-width="0.2">15.75"</text>
<line x1="563.40" y1="872.40" x2="563.40" y2="917.80" stroke="#1c1c1c" stroke-width="1.2" />
<path d="M563.40,872.40 L564.85,879.60 L561.95,879.60 Z" fill="#111"/>
<path d="M563.40,917.80 L561.95,910.60 L564.85,910.60 Z" fill="#111"/>
<line x1="566.40" y1="872.40" x2="560.40" y2="872.40" stroke="#1c1c1c" stroke-width="1.0" />
<line x1="566.40" y1="917.80" x2="560.40" y2="917.80" stroke="#1c1c1c" stroke-width="1.0" />
<text x="0" y="0" transform="translate(572.10,895.30) rotate(-90) scale(0.93,1)" text-anchor="middle" dy="0.36em" font-size="16" fill="#111" stroke="#111" stroke-width="0.2">4.88"</text>
<g transform="translate(375.40,947.60) scale(0.82)"><circle cx="5.9" cy="-3.4" r="4.8" fill="#0a0a0a"/><path d="M-1.5,-4.5 L3.5,-7.5 L6,0 L2,4 Z" fill="#0a0a0a"/><path d="M-8.3,-2.6 C-7.6,-5.2 -4.6,-6.0 -1.9,-5.8 C0.8,-5.9 3.6,-5.2 4.4,-3.2 C5.2,-0.6 4.6,2.6 2.6,5.2 C1.2,7.2 -0.4,8.6 -1.9,8.6 C-3.6,8.4 -5.6,6.8 -7.0,4.4 C-8.4,2.0 -8.8,-0.6 -8.3,-2.6 Z" fill="#5e5e5e" stroke="#0c0c0c" stroke-width="1.5"/><path d="M-6.6,-3.4 L-4.0,-1.2 L-5.6,3.2 L-7.4,0.2 Z M-3.0,-4.4 L-0.6,-2.6 L-3.2,-0.4 L-4.6,-2.6 Z M-1.6,-0.6 L0.6,-1.8 L0.4,1.6 L-2.2,2.6 Z M1.0,-4.2 L3.4,-2.6 L2.4,0.2 L0.6,-2.4 Z M-1.6,3.6 L1.2,2.8 L0.6,5.2 L-2.0,5.8 Z M-4.4,4.4 L-2.6,3.6 L-2.6,6.2 Z" fill="#ededed"/><path d="M-1.9,-5.8 L-1.2,1.0 L-1.9,8.6 M-8.3,-1.0 L-1.2,1.0 L4.6,-0.6 M-7.0,4.4 L-1.2,1.0 L2.6,5.2 M-5.0,-5.4 L-1.2,1.0 L2.4,-5.2" stroke="#101010" stroke-width="0.9" fill="none"/></g>
<circle cx="343.20" cy="846.90" r="21" fill="#0a0a0a"/>
<text x="343.20" y="846.90" text-anchor="middle" dy="0.355em" font-size="28.5" fill="#fff">C</text>
</svg>
</body></html>
